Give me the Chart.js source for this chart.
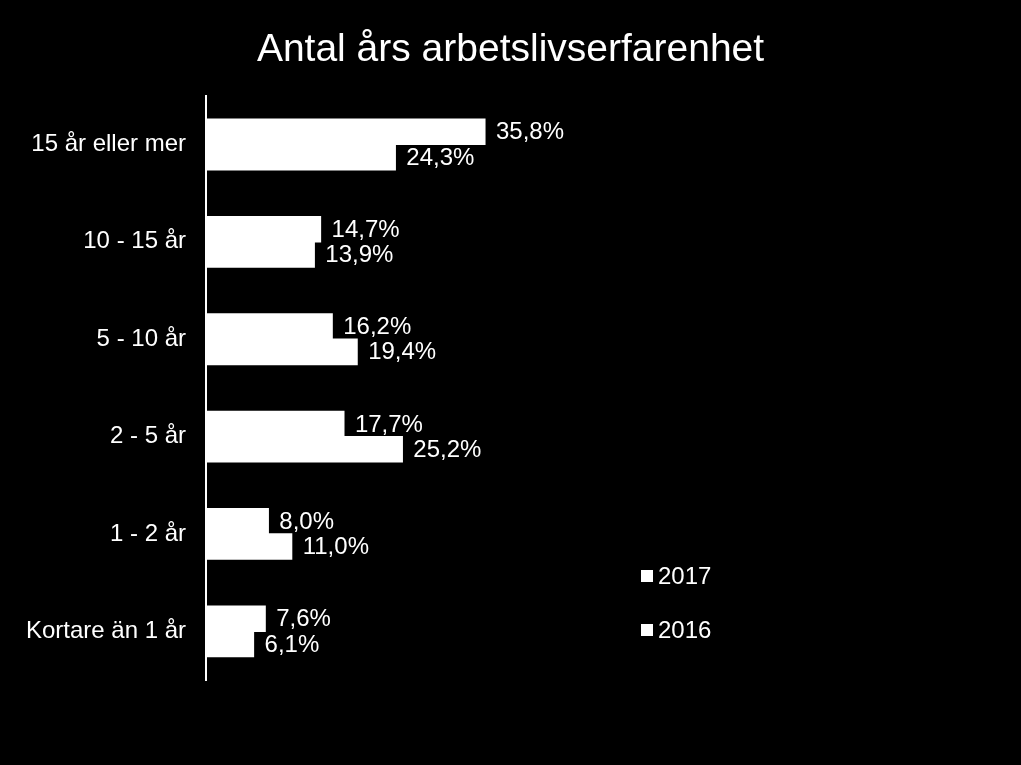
<!DOCTYPE html>
<html>
<head>
<meta charset="utf-8">
<script src="https://cdn.jsdelivr.net/npm/chart.js@4"></script>
<style>
  body { margin: 0; background: #000; }
  canvas { display: block; }
</style>
</head>
<body>
<canvas id="myChart" width="1021" height="765"></canvas>
<script>
const categories = [
  "15 år eller mer",
  "10 - 15 år",
  "5 - 10 år",
  "2 - 5 år",
  "1 - 2 år",
  "Kortare än 1 år",
];

const values2017 = [35.8, 14.7, 16.2, 17.7, 8.0, 7.6];
const values2016 = [24.3, 13.9, 19.4, 25.2, 11.0, 6.1];

const seriesNames = ["2017", "2016"];

const FONT = "'Liberation Sans', Arial, sans-serif";

// value labels right of each bar, "35,8%" style
const barLabels = {
  id: "barLabels",
  afterDatasetsDraw(chart) {
    const ctx = chart.ctx;
    ctx.save();
    ctx.fillStyle = "#fff";
    ctx.font = "24px " + FONT;
    ctx.textAlign = "left";
    ctx.textBaseline = "middle";
    chart.data.datasets.forEach((ds, i) => {
      chart.getDatasetMeta(i).data.forEach((bar, j) => {
        const txt = ds.data[j].toFixed(1).replace(".", ",") + "%";
        ctx.fillText(txt, bar.x + 11, bar.y + 1);
      });
    });
    ctx.restore();
  },
};

// legend drawn by hand at the lower right
const sideLegend = {
  id: "sideLegend",
  afterDraw(chart) {
    const ctx = chart.ctx;
    ctx.save();
    ctx.font = "24px " + FONT;
    ctx.textBaseline = "middle";
    ctx.fillStyle = "#fff";
    chart.data.datasets.forEach((ds, i) => {
      const y = 576 + i * 54;
      ctx.fillRect(641, y - 6, 12, 12);
      ctx.fillText(ds.label, 658, y + 1);
    });
    ctx.restore();
  },
};

const ctx = document.getElementById("myChart");

new Chart(ctx, {
  type: "bar",
  data: {
    labels: categories,
    datasets: [
      {
        label: seriesNames[0],
        data: values2017,
        backgroundColor: "#fff",
        borderWidth: 0,
        inflateAmount: 0.6,
      },
      {
        label: seriesNames[1],
        data: values2016,
        backgroundColor: "#fff",
        borderWidth: 0,
        inflateAmount: 0.6,
      },
    ],
  },
  options: {
    indexAxis: "y",
    responsive: false,
    animation: false,
    layout: {
      padding: { top: 0, right: 0, bottom: 85, left: 0 },
    },
    datasets: {
      bar: {
        barPercentage: 1,
        categoryPercentage: 0.52,
      },
    },
    plugins: {
      legend: { display: false },
      tooltip: { enabled: false },
      title: {
        display: true,
        text: "Antal års arbetslivserfarenhet",
        color: "#fff",
        font: { family: FONT, size: 39, weight: "normal", lineHeight: 1.2 },
        padding: { top: 27, bottom: 22 },
      },
    },
    scales: {
      x: {
        display: false,
        min: 0,
        max: 104.6,
      },
      y: {
        grid: { display: false, drawTicks: false },
        border: { display: true, color: "#fff", width: 2 },
        ticks: {
          color: "#fff",
          padding: 20,
          font: { family: FONT, size: 24 },
        },
        afterFit(scale) {
          scale.width = 206;
        },
      },
    },
  },
  plugins: [barLabels, sideLegend],
});
</script>
</body>
</html>
